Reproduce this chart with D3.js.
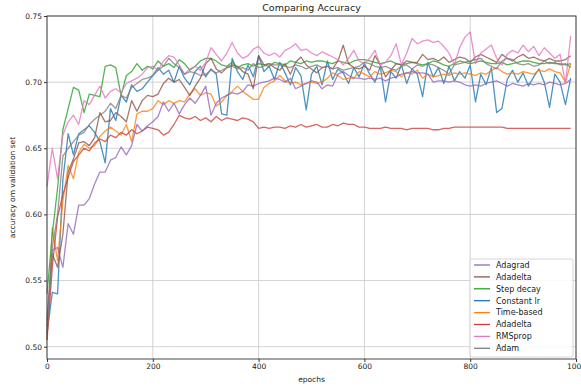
<!DOCTYPE html>
<html>
<head>
<meta charset="utf-8">
<script src="https://cdn.jsdelivr.net/npm/d3@7"></script>
<style>
  body { margin: 0; background: #fff; }
  text { font-family: "DejaVu Sans", sans-serif; fill: #222; }
</style>
</head>
<body>
<svg width="581" height="387"></svg>
<script>
// epochs 0, 10, ... 990
var epochs = d3.range(0, 1000, 10);

var adagrad = [
  0.520, 0.573, 0.575, 0.560, 0.593, 0.585, 0.607, 0.607, 0.612, 0.623,
  0.632, 0.632, 0.641, 0.643, 0.651, 0.645, 0.652, 0.668, 0.663, 0.667,
  0.670, 0.674, 0.685, 0.678, 0.684, 0.676, 0.683, 0.688, 0.684, 0.690,
  0.697, 0.675, 0.684, 0.688, 0.690, 0.692, 0.691, 0.693, 0.698, 0.697,
  0.699, 0.700, 0.701, 0.703, 0.702, 0.700, 0.703, 0.695, 0.697, 0.699,
  0.701, 0.700, 0.695, 0.698, 0.697, 0.706, 0.708, 0.705, 0.703, 0.703,
  0.702, 0.703, 0.702, 0.703, 0.701, 0.703, 0.704, 0.706, 0.707, 0.708,
  0.707, 0.707, 0.706, 0.700, 0.701, 0.701, 0.700, 0.701, 0.700, 0.698,
  0.697, 0.698, 0.697, 0.699, 0.700, 0.701, 0.699, 0.697, 0.699, 0.698,
  0.697, 0.699, 0.698, 0.699, 0.698, 0.700, 0.699, 0.698, 0.699, 0.702
];
var adadelta = [
  0.515, 0.570, 0.560, 0.585, 0.632, 0.642, 0.654, 0.655, 0.652, 0.658,
  0.677, 0.670, 0.671, 0.677, 0.674, 0.670, 0.686, 0.678, 0.686, 0.690,
  0.689, 0.691, 0.699, 0.703, 0.700, 0.702, 0.696, 0.690, 0.697, 0.703,
  0.714, 0.718, 0.710, 0.707, 0.711, 0.713, 0.712, 0.708, 0.706, 0.695,
  0.720, 0.713, 0.714, 0.711, 0.709, 0.714, 0.706, 0.715, 0.719, 0.713,
  0.710, 0.707, 0.711, 0.712, 0.710, 0.716, 0.728, 0.714, 0.711, 0.710,
  0.712, 0.709, 0.720, 0.713, 0.704, 0.709, 0.714, 0.713, 0.716, 0.715,
  0.715, 0.721, 0.717, 0.718, 0.716, 0.719, 0.715, 0.717, 0.719, 0.718,
  0.715, 0.719, 0.721, 0.719, 0.717, 0.715, 0.721, 0.718, 0.716, 0.719,
  0.721, 0.718, 0.719, 0.717, 0.716, 0.718, 0.716, 0.716, 0.717, 0.720
];
var stepDecay = [
  0.540, 0.585, 0.620, 0.664, 0.680, 0.696, 0.694, 0.677, 0.691, 0.690,
  0.689, 0.712, 0.713, 0.711, 0.690, 0.705, 0.708, 0.714, 0.709, 0.712,
  0.710, 0.716, 0.712, 0.714, 0.711, 0.717, 0.714, 0.709, 0.712, 0.716,
  0.718, 0.718, 0.716, 0.713, 0.712, 0.715, 0.711, 0.713, 0.714, 0.712,
  0.714, 0.713, 0.712, 0.715, 0.714, 0.713, 0.716, 0.715, 0.714, 0.716,
  0.715, 0.716, 0.716, 0.715, 0.714, 0.716, 0.715, 0.714, 0.716, 0.717,
  0.717, 0.716, 0.715, 0.714, 0.715, 0.716, 0.714, 0.713, 0.714, 0.715,
  0.714, 0.713, 0.714, 0.716, 0.715, 0.713, 0.712, 0.714, 0.716, 0.715,
  0.714, 0.715, 0.716, 0.715, 0.714, 0.714, 0.715, 0.713, 0.714, 0.715,
  0.716, 0.716, 0.715, 0.714, 0.714, 0.715, 0.714, 0.714, 0.713, 0.714
];
var constantLr = [
  0.510, 0.541, 0.540, 0.626, 0.661, 0.645, 0.661, 0.664, 0.667, 0.662,
  0.655, 0.639, 0.680, 0.671, 0.690, 0.685, 0.698, 0.693, 0.695, 0.700,
  0.705, 0.711, 0.706, 0.709, 0.700, 0.712, 0.703, 0.698, 0.708, 0.712,
  0.704, 0.710, 0.706, 0.676, 0.675, 0.718, 0.708, 0.702, 0.713, 0.704,
  0.720, 0.708, 0.712, 0.702, 0.715, 0.707, 0.698, 0.711, 0.705, 0.679,
  0.706, 0.712, 0.698, 0.716, 0.702, 0.710, 0.707, 0.699, 0.711, 0.704,
  0.714, 0.706, 0.700, 0.712, 0.685, 0.708, 0.703, 0.713, 0.699, 0.710,
  0.706, 0.689, 0.715, 0.704, 0.711, 0.699, 0.712, 0.701, 0.708, 0.703,
  0.713, 0.685, 0.706, 0.698, 0.711, 0.677, 0.680, 0.702, 0.709, 0.700,
  0.707, 0.697, 0.704, 0.710, 0.700, 0.681, 0.706, 0.700, 0.683, 0.703
];
var timeBased = [
  0.505, 0.590, 0.565, 0.610, 0.637, 0.627, 0.647, 0.653, 0.650, 0.652,
  0.659, 0.663, 0.666, 0.663, 0.660, 0.668, 0.655, 0.676, 0.678, 0.678,
  0.680, 0.686, 0.683, 0.686, 0.684, 0.686, 0.685, 0.691, 0.695, 0.690,
  0.692, 0.691, 0.682, 0.685, 0.690, 0.693, 0.697, 0.693, 0.690, 0.687,
  0.687, 0.696, 0.699, 0.701, 0.705, 0.701, 0.699, 0.700, 0.698, 0.699,
  0.700, 0.699, 0.700, 0.703, 0.707, 0.705, 0.702, 0.703, 0.703, 0.708,
  0.706, 0.704, 0.708, 0.706, 0.707, 0.709, 0.708, 0.704, 0.707, 0.706,
  0.709, 0.703, 0.706, 0.704, 0.705, 0.706, 0.705, 0.707, 0.706, 0.707,
  0.706, 0.705, 0.707, 0.706, 0.709, 0.711, 0.708, 0.706, 0.707, 0.706,
  0.708, 0.707, 0.706, 0.709, 0.708, 0.710, 0.708, 0.707, 0.700, 0.714
];
var adadelta2 = [
  0.505, 0.560, 0.598, 0.615, 0.628, 0.640, 0.645, 0.650, 0.648, 0.654,
  0.657, 0.655, 0.660, 0.658, 0.662, 0.660, 0.664, 0.661, 0.663, 0.666,
  0.665, 0.664, 0.660, 0.662, 0.668, 0.675, 0.673, 0.672, 0.674, 0.671,
  0.673, 0.670, 0.674, 0.671, 0.673, 0.672, 0.671, 0.673, 0.672, 0.670,
  0.665, 0.666, 0.665, 0.666, 0.666, 0.665, 0.667, 0.666, 0.668, 0.666,
  0.667, 0.668, 0.666, 0.666, 0.668, 0.667, 0.669, 0.668, 0.668, 0.666,
  0.666, 0.665, 0.665, 0.665, 0.666, 0.665, 0.665, 0.665, 0.664, 0.665,
  0.665, 0.665, 0.665, 0.664, 0.664, 0.665, 0.665, 0.666, 0.666, 0.666,
  0.666, 0.666, 0.666, 0.666, 0.666, 0.666, 0.666, 0.665, 0.665, 0.665,
  0.665, 0.665, 0.665, 0.665, 0.665, 0.665, 0.665, 0.665, 0.665, 0.665
];
var rmsprop = [
  0.621, 0.650, 0.627, 0.660, 0.670, 0.675, 0.668, 0.686, 0.683, 0.690,
  0.697, 0.688, 0.693, 0.695, 0.692, 0.699, 0.701, 0.703, 0.706, 0.711,
  0.712, 0.709, 0.716, 0.720, 0.719, 0.713, 0.706, 0.710, 0.712, 0.709,
  0.715, 0.726, 0.721, 0.716, 0.722, 0.730, 0.722, 0.718, 0.720, 0.725,
  0.727, 0.722, 0.720, 0.722, 0.719, 0.724, 0.726, 0.729, 0.724, 0.725,
  0.722, 0.720, 0.723, 0.721, 0.719, 0.717, 0.713, 0.718, 0.724, 0.716,
  0.714, 0.718, 0.724, 0.713, 0.715, 0.720, 0.729, 0.713, 0.722, 0.733,
  0.729, 0.731, 0.732, 0.730, 0.731, 0.727, 0.722, 0.713, 0.726, 0.734,
  0.738, 0.714, 0.722, 0.725, 0.728, 0.718, 0.713, 0.721, 0.724, 0.722,
  0.728, 0.723, 0.727, 0.720, 0.726, 0.722, 0.718, 0.721, 0.699, 0.735
];
var adam = [
  0.510, 0.575, 0.600, 0.644, 0.650, 0.655, 0.660, 0.662, 0.668, 0.672,
  0.675, 0.678, 0.684, 0.680, 0.690, 0.688, 0.696, 0.699, 0.702, 0.703,
  0.705, 0.709, 0.712, 0.718, 0.714, 0.711, 0.706, 0.708, 0.707, 0.705,
  0.706, 0.709, 0.707, 0.709, 0.711, 0.712, 0.710, 0.711, 0.709, 0.714,
  0.711, 0.712, 0.714, 0.713, 0.713, 0.712, 0.711, 0.713, 0.712, 0.710,
  0.712, 0.713, 0.711, 0.712, 0.710, 0.711, 0.709, 0.710, 0.711, 0.712,
  0.715, 0.714, 0.712, 0.711, 0.712, 0.710, 0.709, 0.712, 0.713, 0.710,
  0.713, 0.712, 0.714, 0.713, 0.711, 0.709, 0.706, 0.713, 0.714, 0.715,
  0.716, 0.717, 0.718, 0.714, 0.712, 0.710, 0.716, 0.718, 0.717, 0.714,
  0.713, 0.714, 0.712, 0.713, 0.716, 0.714, 0.715, 0.713, 0.714, 0.711
];

var names = ['Adagrad', 'Adadelta', 'Step decay', 'Constant lr', 'Time-based', 'Adadelta', 'RMSprop', 'Adam'];
var values = [adagrad, adadelta, stepDecay, constantLr, timeBased, adadelta2, rmsprop, adam];
var colors = ['#9467bd', '#8c564b', '#2ca02c', '#1f77b4', '#ff7f0e', '#c8403a', '#e377c2', '#7f7f7f'];
// draw order, later ones on top
var drawOrder = [3, 4, 2, 5, 0, 1, 6, 7];

var xTicks = [0, 200, 400, 600, 800, 1000];
var yTicks = [0.50, 0.55, 0.60, 0.65, 0.70, 0.75];

var svg = d3.select('svg'),
  plotLeft = 47, plotRight = 576, plotTop = 16, plotBottom = 359;

var x = d3.scaleLinear().domain([0, 1000]).range([plotLeft, plotRight]);
var y = d3.scaleLinear().domain([0.4907, 0.75]).range([plotBottom, plotTop]);

// grid
svg.append('g')
  .selectAll('line')
  .data(xTicks)
  .enter()
  .append('line')
  .attr('x1', function(d) { return x(d); })
  .attr('x2', function(d) { return x(d); })
  .attr('y1', plotTop)
  .attr('y2', plotBottom)
  .attr('stroke', '#c8c8c8')
  .attr('stroke-width', 0.8);

svg.append('g')
  .selectAll('line')
  .data(yTicks)
  .enter()
  .append('line')
  .attr('x1', plotLeft)
  .attr('x2', plotRight)
  .attr('y1', function(d) { return y(d); })
  .attr('y2', function(d) { return y(d); })
  .attr('stroke', '#c8c8c8')
  .attr('stroke-width', 0.8);

// lines
var line = d3.line()
  .x(function(d, i) { return x(epochs[i]); })
  .y(function(d) { return y(d); });

svg.append('g')
  .attr('fill', 'none')
  .attr('stroke-width', 1.3)
  .attr('stroke-linejoin', 'round')
  .selectAll('path')
  .data(drawOrder)
  .enter()
  .append('path')
  .attr('stroke', function(k) { return colors[k]; })
  .attr('opacity', 0.8)
  .attr('d', function(k) { return line(values[k]); });

// axes
var xAxis = svg.append('g')
  .attr('transform', 'translate(0,' + plotBottom + ')')
  .call(d3.axisBottom(x).tickValues(xTicks).tickSize(3).tickPadding(2).tickFormat(d3.format('d')));
var yAxis = svg.append('g')
  .attr('transform', 'translate(' + plotLeft + ',0)')
  .call(d3.axisLeft(y).tickValues(yTicks).tickSize(3).tickPadding(2).tickFormat(d3.format('.2f')));

[xAxis, yAxis].forEach(function(a) {
  a.select('.domain').remove();
  a.selectAll('line').attr('stroke', '#333');
  a.selectAll('text').style('font-size', '7.5px').style('font-family', '"DejaVu Sans", sans-serif').attr('fill', '#222');
});

// frame
svg.append('rect')
  .attr('x', plotLeft)
  .attr('y', plotTop)
  .attr('width', plotRight - plotLeft)
  .attr('height', plotBottom - plotTop)
  .attr('fill', 'none')
  .attr('stroke', '#333')
  .attr('stroke-width', 0.9);

// titles
svg.append('text')
  .attr('x', (plotLeft + plotRight) / 2)
  .attr('y', 11)
  .attr('text-anchor', 'middle')
  .style('font-size', '9.5px')
  .text('Comparing Accuracy');

svg.append('text')
  .attr('x', (plotLeft + plotRight) / 2)
  .attr('y', 382)
  .attr('text-anchor', 'middle')
  .style('font-size', '7.5px')
  .text('epochs');

svg.append('text')
  .attr('transform', 'translate(15,' + (plotTop + plotBottom) / 2 + ') rotate(-90)')
  .attr('text-anchor', 'middle')
  .style('font-size', '7.5px')
  .text('accuracy om validation set');

// legend
var legend = svg.append('g').attr('transform', 'translate(470,259)');
legend.append('rect')
  .attr('width', 103)
  .attr('height', 98)
  .attr('rx', 2)
  .attr('fill', '#fff')
  .attr('fill-opacity', 0.85)
  .attr('stroke', '#ccc')
  .attr('stroke-width', 0.8);

var item = legend.selectAll('g')
  .data(names)
  .enter()
  .append('g')
  .attr('transform', function(d, i) { return 'translate(0,' + (6 + i * 11.9) + ')'; });

item.append('line')
  .attr('x1', 4)
  .attr('x2', 20)
  .attr('stroke', function(d, i) { return colors[i]; })
  .attr('stroke-width', 1.3);

item.append('text')
  .attr('x', 26)
  .attr('dy', '0.35em')
  .style('font-size', '8px')
  .text(function(d) { return d; });
</script>
</body>
</html>
